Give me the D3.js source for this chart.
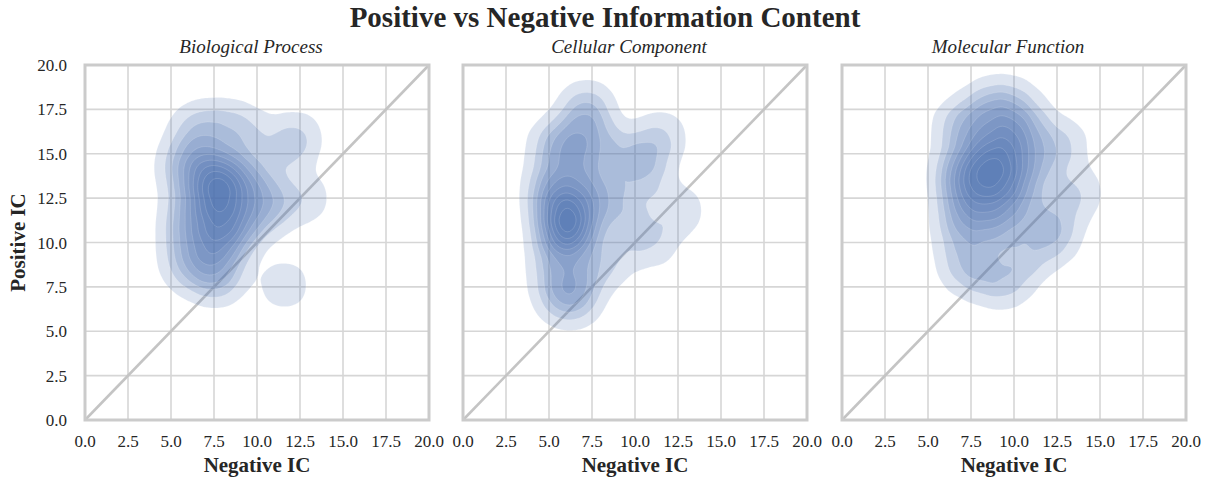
<!DOCTYPE html>
<html>
<head>
<meta charset="utf-8">
<script src="https://cdn.jsdelivr.net/npm/d3@7"></script>
<style>
  body { margin: 0; background: #fff; }
  text { font-family: "Liberation Serif", "DejaVu Serif", serif; fill: #262626; }
</style>
</head>
<body>
<div id="chart"></div>
<script>
// ---- data ----
var panelTitles = ["Biological Process", "Cellular Component", "Molecular Function"];
var tickValues = [0, 2.5, 5, 7.5, 10, 12.5, 15, 17.5, 20];

// sample points [negative IC, positive IC] per ontology
var bpPoints = [
  [7.6,12.8],[8.0,12.6],[7.8,13.4],[7.2,12.4],[8.3,13.0],[7.9,12.0],[7.5,13.6],
  [8.0,11.0],[8.1,10.4],[7.8,11.4],[8.4,11.5],[7.9,10.0],
  [7.5,14.4],[8.2,14.3],[7.0,13.8],[8.8,13.6],
  [6.2,12.5],[6.6,11.0],[6.0,13.8],[6.6,14.8],[6.0,11.5],
  [9.5,12.5],[10.0,11.5],[9.6,13.8],[10.5,13.0],[11.0,12.0],[12.8,12.5],[11.8,15.2],[12.3,16.0],
  [7.0,16.5],[8.5,16.6],[6.3,16.2],[9.5,16.0],
  [6.0,8.5],[7.3,8.6],[7.9,8.4],[7.6,7.8],[8.2,9.8],[9.3,10.9],[6.0,9.2],[7.0,9.8],
  [11.6,7.6],[5.6,14.5],[5.8,10.5]
];
var ccPoints = [
  [6.0,10.5],[6.3,10.8],[6.1,10.2],[6.5,10.6],[5.8,11.2],
  [5.4,12.8],[5.4,13.6],[5.4,12.0],[5.5,11.8],
  [7.3,13.0],[7.4,12.2],[7.3,13.9],
  [6.5,12.0],[6.8,11.2],
  [6.5,15.0],[7.0,16.0],[7.0,17.2],[7.3,17.6],[5.6,15.5],[5.4,15.4],[8.0,15.5],
  [9.0,12.5],[9.5,11.0],[10.5,13.5],[10.8,14.8],[12.5,11.8],[11.0,10.0],[11.5,16.0],[9.5,15.0],
  [5.4,9.2],[5.6,8.0],[6.8,7.2],[5.6,7.2],[7.0,8.5],[8.5,9.0],[6.2,6.6],[5.4,10.5],[5.4,13.0]
];
var mfPoints = [
  [8.4,14.8],[8.2,14.5],[9.9,15.8],[10.0,15.0],[9.9,16.2],[9.4,13.1],[9.6,13.4],
  [7.3,12.6],[7.5,12.2],
  [9.0,13.8],[9.3,14.5],[8.0,13.5],[8.6,12.5],[9.2,12.0],[10.5,13.8],[7.5,14.2],[8.6,15.6],
  [6.8,13.5],[6.9,11.5],[7.0,10.5],[8.5,10.5],[9.5,11.0],[11.0,12.0],[11.5,14.5],[11.0,16.5],
  [9.0,17.0],[7.5,16.5],[6.8,16.5],[12.8,15.5],[13.6,12.8],[12.5,11.0],[8.0,8.2],[9.5,7.7],
  [10.5,9.0],[7.0,8.8],[12.0,10.0],[6.8,14.2],[8.5,17.8],[10.0,17.8]
];
var panelPoints = [bpPoints, ccPoints, mfPoints];

// density levels as fractions of the peak
var levelFractions = [0.05, 0.14, 0.23, 0.32, 0.42, 0.52, 0.62, 0.72, 0.82, 0.92];

// ---- layout ----
var W = 1209, H = 482;
var panelLeft = [85, 463, 842], panelW = 344;
var plotTop = 65, plotH = 355;

var svg = d3.select("#chart").append("svg")
  .attr("width", W).attr("height", H);

svg.append("text")
  .attr("x", 605).attr("y", 27)
  .attr("text-anchor", "middle")
  .style("font-size", "29px").style("font-weight", "bold")
  .text("Positive vs Negative Information Content");

var x = d3.scaleLinear().domain([0, 20]).range([0, panelW]);
var y = d3.scaleLinear().domain([0, 20]).range([plotH, 0]);

panelPoints.forEach(function (pts, i) {
  var g = svg.append("g").attr("transform", "translate(" + panelLeft[i] + "," + plotTop + ")");

  // grid
  g.selectAll(".vgrid").data(tickValues).enter().append("line")
    .attr("x1", function (d) { return x(d); }).attr("x2", function (d) { return x(d); })
    .attr("y1", 0).attr("y2", plotH)
    .attr("stroke", "#d6d6d6").attr("stroke-width", 1.6);
  g.selectAll(".hgrid").data(tickValues).enter().append("line")
    .attr("y1", function (d) { return y(d); }).attr("y2", function (d) { return y(d); })
    .attr("x1", 0).attr("x2", panelW)
    .attr("stroke", "#d6d6d6").attr("stroke-width", 1.6);

  // diagonal y = x
  g.append("line")
    .attr("x1", x(0)).attr("y1", y(0)).attr("x2", x(20)).attr("y2", y(20))
    .attr("stroke", "#c4c4c4").attr("stroke-width", 2.6);

  // KDE
  var density = d3.contourDensity()
    .x(function (d) { return x(d[0]); })
    .y(function (d) { return y(d[1]); })
    .size([panelW, plotH])
    .cellSize(2)
    .bandwidth(16);
  var contour = density.contours(pts);
  var levels = levelFractions.map(function (f) { return contour(contour.max * f); });

  g.append("g").selectAll("path").data(levels).enter().append("path")
    .attr("d", d3.geoPath())
    .attr("fill", "#4c72b0")
    .attr("fill-opacity", 0.19)
    .attr("stroke", "#ffffff")
    .attr("stroke-opacity", 0.25)
    .attr("stroke-width", 0.6);

  // frame
  g.append("rect")
    .attr("width", panelW).attr("height", plotH)
    .attr("fill", "none").attr("stroke", "#cbcbcb").attr("stroke-width", 3);

  // x ticks
  g.selectAll(".xt").data(tickValues).enter().append("text")
    .attr("x", function (d) { return x(d); }).attr("y", plotH + 27)
    .attr("text-anchor", "middle")
    .style("font-size", "17px")
    .text(function (d) { return d3.format(".1f")(d); });

  g.append("text")
    .attr("x", panelW / 2).attr("y", plotH + 52)
    .attr("text-anchor", "middle")
    .style("font-size", "21px").style("font-weight", "bold")
    .text("Negative IC");

  g.append("text")
    .attr("x", panelW / 2 - 6).attr("y", -12)
    .attr("text-anchor", "middle")
    .style("font-size", "19px").style("font-style", "italic")
    .text(panelTitles[i]);

  if (i === 0) {
    g.selectAll(".yt").data(tickValues).enter().append("text")
      .attr("x", -18).attr("y", function (d) { return y(d) + 6; })
      .attr("text-anchor", "end")
      .style("font-size", "17px")
      .text(function (d) { return d3.format(".1f")(d); });
    g.append("text")
      .attr("transform", "translate(-60," + plotH / 2 + ") rotate(-90)")
      .attr("text-anchor", "middle")
      .style("font-size", "21px").style("font-weight", "bold")
      .text("Positive IC");
  }
});
</script>
</body>
</html>
